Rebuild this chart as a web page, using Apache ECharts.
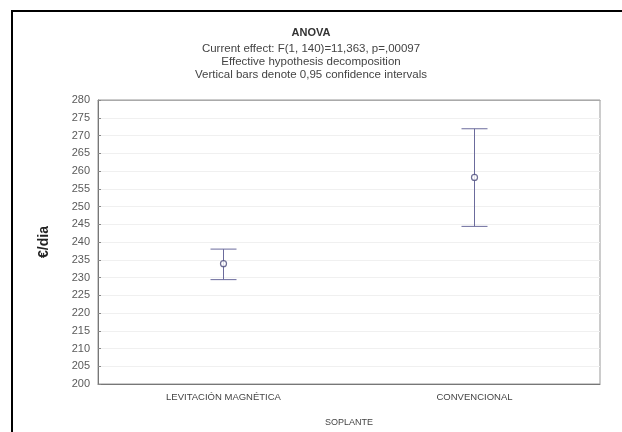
<!DOCTYPE html>
<html><head><meta charset="utf-8">
<script src="https://cdn.jsdelivr.net/npm/echarts@6/dist/echarts.min.js"></script>
<style>html,body{margin:0;padding:0;background:#fff}#c{width:622px;height:432px}</style>
</head><body><div id="c"></div>
<script>
const categories = ['LEVITACIÓN MAGNÉTICA', 'CONVENCIONAL'];
const means = [233.9, 258.2];
const lower = [229.4, 244.4];
const upper = [238.0, 271.9];
const yTicks = {min: 200, max: 280, interval: 5};
const titleText = 'ANOVA';
const subLines = ['Current effect: F(1, 140)=11,363, p=,00097', 'Effective hypothesis decomposition', 'Vertical bars denote 0,95 confidence intervals'];

const chart = echarts.init(document.getElementById('c'), null, {renderer: 'canvas'});
const barData = categories.map((c, i) => [i, lower[i], upper[i]]);
const lineColor = '#6b6b9c';
chart.setOption({
  backgroundColor: '#fff',
  animation: false,
  title: {
    text: titleText,
    subtext: subLines.join('\n'),
    left: 'center', top: 22, itemGap: 4,
    textStyle: {fontFamily: 'Liberation Sans', fontSize: 11, fontWeight: 'bold', color: '#333'},
    subtextStyle: {fontFamily: 'Liberation Sans', fontSize: 11.5, color: '#444', lineHeight: 13}
  },
  graphic: [
    {type: 'rect', shape: {x: 11, y: 10, width: 2, height: 430}, style: {fill: '#000'}},
    {type: 'rect', shape: {x: 11, y: 10, width: 620, height: 2}, style: {fill: '#000'}}
  ],
  grid: {left: 98, right: 22, top: 100, bottom: 47, show: true, borderColor: '#999', borderWidth: 1, backgroundColor: '#fff'},
  xAxis: [{
    type: 'category', data: categories, boundaryGap: true,
    name: 'SOPLANTE', nameLocation: 'middle', nameGap: 34,
    nameTextStyle: {fontFamily: 'Liberation Sans', fontSize: 9, color: '#444'},
    axisLine: {lineStyle: {color: '#777'}},
    axisTick: {inside: true, alignWithLabel: true, length: 3, lineStyle: {color: '#999'}},
    axisLabel: {fontFamily: 'Liberation Sans', fontSize: 9.5, color: '#444', margin: 8, interval: 0},
    splitLine: {show: false}
  }, {
    type: 'category', data: categories, boundaryGap: true, position: 'top',
    axisLine: {lineStyle: {color: '#aaa'}},
    axisTick: {inside: true, alignWithLabel: true, length: 3, lineStyle: {color: '#aaa'}},
    axisLabel: {show: false}
  }],
  yAxis: {
    type: 'value', min: yTicks.min, max: yTicks.max, interval: yTicks.interval,
    name: '€/dia', nameLocation: 'middle', nameGap: 47,
    nameTextStyle: {fontFamily: 'Liberation Sans', fontSize: 14, fontWeight: 'bold', color: '#222'},
    axisLine: {show: true, lineStyle: {color: '#777'}},
    axisTick: {show: true, inside: true, length: 3, lineStyle: {color: '#888'}},
    axisLabel: {fontFamily: 'Liberation Sans', fontSize: 11, color: '#5a5a5a', margin: 8},
    splitLine: {show: true, lineStyle: {color: '#f0f0f0'}}
  },
  series: [{
    type: 'custom',
    data: barData,
    renderItem: function (params, api) {
      const x = api.value(0);
      const lo = api.coord([x, api.value(1)]);
      const hi = api.coord([x, api.value(2)]);
      const hw = 13;
      const style = {stroke: lineColor, lineWidth: 1};
      return {type: 'group', children: [
        {type: 'line', shape: {x1: hi[0], y1: hi[1], x2: lo[0], y2: lo[1]}, style: style},
        {type: 'line', shape: {x1: hi[0] - hw, y1: hi[1], x2: hi[0] + hw, y2: hi[1]}, style: style},
        {type: 'line', shape: {x1: lo[0] - hw, y1: lo[1], x2: lo[0] + hw, y2: lo[1]}, style: style}
      ]};
    },
    z: 2
  }, {
    type: 'scatter',
    data: means.map((m, i) => [i, m]),
    symbol: 'circle', symbolSize: 6,
    itemStyle: {color: '#fff', borderColor: '#4a4a7a', borderWidth: 1.2},
    z: 3
  }]
});
</script></body></html>
